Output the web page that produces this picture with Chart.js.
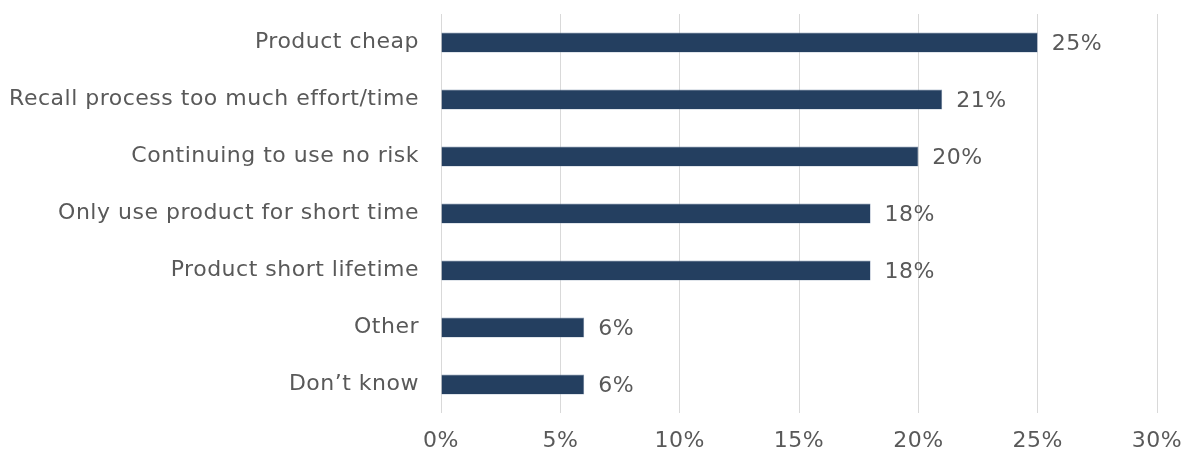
<html>
<head>
<meta charset="UTF-8">
<title>Reasons</title>
<style>
  html, body { margin: 0; padding: 0; background: #fff; }
  #wrap { width: 1192px; height: 455px; position: relative; }
</style>
</head>
<body>
<div id="wrap"><canvas id="myChart"></canvas></div>

<script src="https://cdn.jsdelivr.net/npm/chart.js@4.4.0/dist/chart.umd.min.js"></script>
<script>
// data
const categories = [
  'Product cheap',
  'Recall process too much effort/time',
  'Continuing to use no risk',
  'Only use product for short time',
  'Product short lifetime',
  'Other',
  'Don\u2019t know'
];
const shares = [25, 21, 20, 18, 18, 6, 6];
const xTicks = [0, 5, 10, 15, 20, 25, 30];

const textGrey = '#595959';
const fontFam = '"DejaVu Sans", Verdana, sans-serif';
const fontSize = 22;
const spacing = '0.5px';

// the reference font is Verdana, a bit wider than DejaVu: widen it a touch
const wideText = {
  id: 'wideText',
  beforeLayout(chart) { chart.ctx.letterSpacing = spacing; },
  beforeDraw(chart) { chart.ctx.letterSpacing = spacing; }
};

// value labels at the end of each bar
const barLabels = {
  id: 'barLabels',
  afterDatasetsDraw(chart) {
    const ctx = chart.ctx;
    const meta = chart.getDatasetMeta(0);
    ctx.save();
    ctx.letterSpacing = spacing;
    ctx.font = fontSize + 'px ' + fontFam;
    ctx.fillStyle = textGrey;
    ctx.textAlign = 'left';
    ctx.textBaseline = 'middle';
    meta.data.forEach((bar, i) => {
      ctx.fillText(shares[i] + '%', bar.x + 14, bar.y + 2);
    });
    ctx.restore();
  }
};

const ctx = document.getElementById('myChart').getContext('2d');
const chart = new Chart(ctx, {
  type: 'bar',
  data: {
    labels: categories,
    datasets: [{
      data: shares,
      backgroundColor: '#243F60',
      borderColor: '#8496B0',
      borderWidth: 0.6,
      barPercentage: 0.7,
      categoryPercentage: 0.5
    }]
  },
  options: {
    indexAxis: 'y',
    responsive: true,
    maintainAspectRatio: false,
    animation: false,
    layout: { padding: { top: 14, right: 35, bottom: 0, left: 0 } },
    plugins: {
      legend: { display: false },
      tooltip: { enabled: false }
    },
    scales: {
      x: {
        min: 0,
        max: 30,
        afterBuildTicks: (s) => { s.ticks = xTicks.map(v => ({ value: v })); },
        afterFit: (s) => { s.height = 42; s.paddingLeft = 0; s.paddingRight = 0; },
        grid: { color: '#D9D9D9', lineWidth: 1, drawTicks: false },
        border: { display: false },
        ticks: {
          padding: 15,
          color: textGrey,
          font: { family: fontFam, size: fontSize },
          callback: (v) => v + '%'
        }
      },
      y: {
        afterFit: (s) => { s.width = 441; s.paddingTop = 0; s.paddingBottom = 0; },
        grid: { display: false, drawTicks: false },
        border: { display: false },
        ticks: {
          padding: 22,
          color: textGrey,
          font: { family: fontFam, size: fontSize }
        }
      }
    }
  },
  plugins: [wideText, barLabels]
});
</script>
</body>
</html>
